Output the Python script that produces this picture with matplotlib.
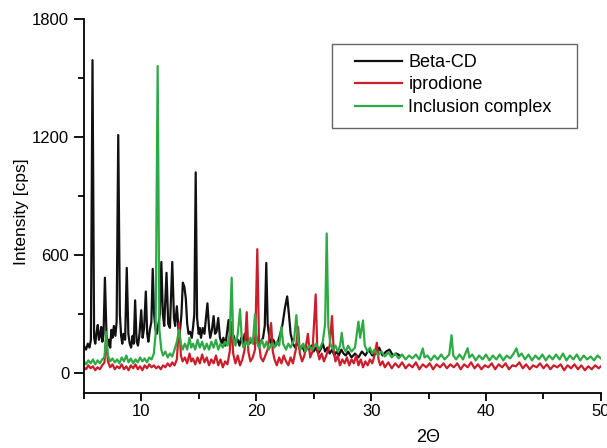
import matplotlib
matplotlib.use("Agg")
import matplotlib.pyplot as plt
from matplotlib.patches import Rectangle
from matplotlib.ticker import MultipleLocator

plt.rcParams['font.family'] = ['Liberation Sans', 'DejaVu Sans']

# 2-theta / intensity traces, read point by point
beta_x = [5.0, 5.2, 5.35, 5.5, 5.62, 5.76, 5.9, 6.0, 6.1, 6.22, 6.32, 6.42, 6.52, 6.62, 6.72, 6.84,
          6.98, 7.1, 7.2, 7.3, 7.4, 7.5, 7.62, 7.75, 7.86, 8.0, 8.14, 8.25, 8.35, 8.45, 8.6, 8.74,
          8.88, 9.0, 9.12, 9.25, 9.35, 9.47, 9.6, 9.72, 9.85, 10.0, 10.12, 10.25, 10.4, 10.52, 10.62,
          10.75, 10.88, 11.0, 11.12, 11.25, 11.35, 11.5, 11.62, 11.75, 11.88, 12.0, 12.2, 12.35,
          12.5, 12.7, 12.85, 12.95, 13.1, 13.25, 13.35, 13.5, 13.62, 13.75, 13.88, 14.0, 14.12,
          14.25, 14.4, 14.52, 14.62, 14.74, 14.86, 15.0, 15.1, 15.2, 15.35, 15.5, 15.62, 15.76,
          15.9, 16.0, 16.15, 16.3, 16.42, 16.55, 16.7, 16.85, 17.0, 17.15, 17.3, 17.45, 17.6,
          17.75, 17.9, 18.05, 18.2, 18.4, 18.55, 18.7, 18.85, 19.0, 19.2, 19.4, 19.6, 19.8, 20.0,
          20.2, 20.4, 20.6, 20.75, 20.88, 21.0, 21.15, 21.3, 21.5, 21.7, 21.9, 22.1, 22.3, 22.5,
          22.7, 22.85, 23.0, 23.2, 23.4, 23.6, 23.8, 24.0, 24.2, 24.4, 24.6, 24.8, 25.0, 25.2,
          25.4, 25.6, 25.8, 26.0, 26.2, 26.4, 26.6, 26.8, 27.0, 27.2, 27.4, 27.6, 27.8, 28.0,
          28.3, 28.6, 28.9, 29.2, 29.5, 29.8, 30.1, 30.4, 30.7, 31.0, 31.3, 31.6, 31.9, 32.2, 32.5]
beta_y = [140, 120, 150, 130, 170, 1590, 180, 150, 200, 245, 170, 190, 235, 160, 200, 485,
          190, 140, 170, 130, 220, 180, 240, 190, 260, 1210, 300, 190, 150, 200, 170, 535,
          200, 150, 130, 190, 150, 370, 160, 140, 200, 320, 180, 230, 415, 200, 160,
          220, 260, 530, 300, 220, 200, 250, 300, 565, 300, 240, 510, 250,
          230, 565, 280, 240, 340, 220, 200, 300, 460, 440, 380, 250, 200,
          210, 180, 240, 300, 1020, 280, 200, 230, 180, 230, 200, 270, 355,
          230, 180, 220, 290, 200, 210, 280, 180, 150, 180, 140, 200, 270,
          180, 160, 190, 150, 170, 140, 180, 150, 200, 160, 150, 170, 150, 190,
          140, 160, 180, 240, 560, 250, 180, 150, 170, 140, 160, 200, 250, 330,
          390, 300, 200, 150, 130, 160, 120, 140, 110, 130, 120, 140, 110, 130,
          100, 120, 150, 110, 130, 100, 120, 90, 110, 90, 120, 100, 90, 110,
          80, 100, 80, 110, 90, 120, 90, 100, 130, 90, 110, 120, 90, 100, 90]

ipro_x = [5.0, 5.2, 5.4, 5.6, 5.8, 6.0, 6.2, 6.4, 6.6, 6.8, 6.95, 7.1, 7.3, 7.5, 7.7, 7.9, 8.1,
          8.3, 8.5, 8.7, 8.9, 9.1, 9.3, 9.5, 9.7, 9.9, 10.1, 10.3, 10.5, 10.7, 10.9, 11.1, 11.3,
          11.5, 11.7, 11.9, 12.1, 12.3, 12.5, 12.7, 12.9, 13.1, 13.3, 13.45, 13.6, 13.8, 14.0,
          14.2, 14.35, 14.5, 14.7, 14.9, 15.1, 15.3, 15.5, 15.7, 15.9, 16.1, 16.3, 16.5, 16.7,
          16.9, 17.1, 17.3, 17.5, 17.7, 17.85, 18.0, 18.2, 18.4, 18.6, 18.8, 19.0, 19.18, 19.32,
          19.5, 19.7, 19.9, 20.1, 20.25, 20.4, 20.6, 20.8, 21.0, 21.3, 21.45, 21.6, 21.8, 22.0,
          22.2, 22.4, 22.6, 22.8, 23.0, 23.2, 23.45, 23.65, 23.8, 24.0, 24.2, 24.5, 24.7, 24.9,
          25.18, 25.32, 25.5, 25.7, 25.9, 26.1, 26.4, 26.6, 26.75, 26.9, 27.1, 27.3, 27.5, 27.7,
          27.9, 28.1, 28.3, 28.5, 28.7, 28.9, 29.1, 29.3, 29.5, 29.7, 29.9, 30.1, 30.3, 30.5,
          30.65, 30.8, 31.0, 31.2, 31.5, 31.8, 32.1, 32.4, 32.7, 33.0, 33.3, 33.6, 33.9, 34.2,
          34.5, 34.8, 35.1, 35.4, 35.7, 36.0, 36.3, 36.6, 36.9, 37.2, 37.5, 37.8, 38.1, 38.4,
          38.7, 39.0, 39.3, 39.6, 39.9, 40.2, 40.5, 40.8, 41.1, 41.4, 41.7, 42.0, 42.3, 42.6,
          42.9, 43.2, 43.5, 43.8, 44.1, 44.4, 44.7, 45.0, 45.3, 45.6, 45.9, 46.2, 46.5, 46.8,
          47.1, 47.4, 47.7, 48.0, 48.3, 48.6, 48.9, 49.2, 49.5, 49.8, 50.0]
ipro_y = [30, 20, 40, 25, 35, 15, 30, 20, 40, 55, 170, 60, 30, 45, 20, 35, 25,
          45, 20, 35, 15, 40, 25, 45, 20, 35, 15, 40, 25, 45, 30, 40, 25,
          35, 20, 40, 30, 50, 35, 55, 40, 70, 255, 90, 60, 80, 50,
          100, 60, 75, 45, 80, 50, 95, 55, 80, 40, 70, 50, 90, 40,
          70, 30, 60, 45, 110, 260, 100, 50, 90, 40, 70, 120, 310, 110,
          60, 80, 120, 630, 150, 80, 60, 90, 120, 255, 110, 70, 40, 80,
          50, 90, 60, 40, 80, 50, 120, 235, 100, 60, 90, 200, 80, 110,
          400, 120, 70, 100, 60, 90, 140, 290, 110, 60, 90, 40, 70, 50,
          80, 40, 70, 50, 90, 40, 70, 30, 60, 40, 70, 50, 90, 155,
          70, 40, 60, 30, 55, 25, 50, 30, 55, 25, 45, 30, 55, 20,
          45, 30, 50, 20, 45, 30, 50, 25, 45, 30, 50, 20, 45, 30,
          55, 25, 45, 20, 40, 30, 50, 20, 45, 30, 50, 20, 40, 35,
          55, 25, 45, 20, 40, 30, 50, 25, 45, 20, 40, 30, 45, 15,
          40, 25, 45, 20, 40, 15, 35, 20, 40, 25, 35]

incl_x = [5.0, 5.2, 5.4, 5.6, 5.8, 6.0, 6.2, 6.4, 6.6, 6.8, 6.95, 7.1, 7.3, 7.5, 7.7, 7.9, 8.1,
          8.3, 8.5, 8.7, 8.9, 9.1, 9.3, 9.5, 9.7, 9.9, 10.1, 10.3, 10.5, 10.7, 10.9, 11.1, 11.25,
          11.43, 11.58, 11.75, 11.9, 12.1, 12.3, 12.5, 12.7, 12.9, 13.1, 13.3, 13.45, 13.6, 13.8,
          14.0, 14.2, 14.35, 14.5, 14.7, 14.9, 15.1, 15.3, 15.5, 15.7, 15.9, 16.1, 16.3, 16.5,
          16.7, 16.9, 17.1, 17.3, 17.5, 17.7, 17.87, 18.0, 18.2, 18.4, 18.6, 18.75, 18.9, 19.1,
          19.3, 19.5, 19.7, 19.9, 20.05, 20.25, 20.5, 20.7, 20.9, 21.1, 21.35, 21.6, 21.8, 22.0,
          22.2, 22.35, 22.6, 22.8, 23.0, 23.3, 23.5, 23.65, 23.85, 24.1, 24.3, 24.6, 24.9, 25.2,
          25.5, 25.8, 26.0, 26.14, 26.28, 26.45, 26.7, 26.9, 27.1, 27.3, 27.45, 27.6, 27.8, 28.0,
          28.3, 28.6, 28.9, 29.05, 29.3, 29.45, 29.7, 29.9, 30.1, 30.3, 30.6, 30.9, 31.2, 31.5,
          31.8, 32.1, 32.4, 32.7, 33.0, 33.3, 33.6, 33.9, 34.2, 34.5, 34.65, 34.9, 35.2, 35.5,
          35.8, 36.1, 36.4, 36.8, 37.0, 37.15, 37.4, 37.7, 38.0, 38.4, 38.55, 38.8, 39.1, 39.4,
          39.7, 40.0, 40.3, 40.6, 40.9, 41.2, 41.5, 41.8, 42.1, 42.4, 42.65, 42.85, 43.1, 43.4,
          43.7, 44.0, 44.3, 44.6, 44.9, 45.2, 45.5, 45.8, 46.1, 46.4, 46.7, 47.0, 47.3, 47.6,
          47.9, 48.2, 48.5, 48.8, 49.1, 49.4, 49.7, 50.0]
incl_y = [60, 45, 65, 50, 70, 45, 65, 50, 70, 80, 210, 90, 60, 75, 55, 70, 50,
          80, 60, 90, 55, 75, 50, 70, 55, 80, 60, 75, 55, 80, 70, 100, 200,
          1560, 220, 120, 90, 110, 80, 100, 85, 120, 160, 220, 150, 120, 150,
          120, 180, 130, 150, 120, 170, 130, 160, 120, 150, 120, 160, 130, 170,
          120, 150, 130, 160, 140, 200, 485, 180, 140, 200, 325, 170, 130, 160,
          140, 180, 150, 300, 160, 130, 170, 130, 160, 120, 150, 130, 160, 140,
          235, 150, 120, 150, 130, 170, 295, 160, 120, 150, 110, 140, 120, 150,
          120, 160, 250, 710, 240, 150, 120, 140, 110, 140, 205, 130, 110, 140,
          110, 130, 262, 180, 268, 140, 110, 130, 100, 120, 90, 110, 85, 105,
          80, 100, 75, 95, 70, 90, 75, 95, 70, 126, 80, 90, 65, 90,
          70, 95, 70, 95, 193, 90, 70, 95, 70, 127, 80, 95, 65, 90,
          70, 95, 65, 90, 70, 95, 65, 90, 75, 100, 126, 85, 100, 70,
          95, 65, 90, 70, 95, 65, 90, 70, 95, 70, 100, 65, 90, 70,
          95, 65, 90, 70, 85, 65, 90, 75]

series = [
    (beta_x, beta_y, '#111111', 'Beta-CD'),
    (ipro_x, ipro_y, '#cc1e2a', 'iprodione'),
    (incl_x, incl_y, '#2eaa45', 'Inclusion complex'),
]

W, H = 607, 448
fig = plt.figure(figsize=(W / 100, H / 100), dpi=100)
ax = fig.add_axes([0.138, 0.123, 0.852, 0.835])

for xs, ys, col, name in series:
    ax.plot(xs, ys, color=col, lw=1.6, label=name)

ax.set_xlim(5, 50)
ax.set_ylim(-100, 1800)
ax.xaxis.set_minor_locator(MultipleLocator(5))
ax.yaxis.set_minor_locator(MultipleLocator(300))
ax.set_xticks([10, 20, 30, 40, 50])
ax.set_yticks([0, 600, 1200, 1800])

for side in ('top', 'right'):
    ax.spines[side].set_visible(False)
for side in ('left', 'bottom'):
    ax.spines[side].set_linewidth(1.3)

ax.tick_params(which='major', direction='out', length=7, width=1.3, labelsize=12)
ax.tick_params(axis='x', which='major', length=6, pad=2)
ax.tick_params(which='minor', direction='out', length=4, width=1.3)

ax.set_ylabel('Intensity [cps]', fontsize=12.5)
ax.yaxis.set_label_coords(-0.106, 0.484)
fig.text(0.705, 0.004, '2\u0398', fontsize=13, ha='center', va='bottom')

# legend box is wider than its content, so the frame is drawn separately
fig.patches.append(Rectangle((332 / W, 1 - 128 / H), 245 / W, 84 / H,
                             transform=fig.transFigure, fill=False,
                             edgecolor='#666666', lw=1.0, zorder=5))
ax.legend(loc='upper left', bbox_to_anchor=(355 / W, 1 - 54 / H),
          bbox_transform=fig.transFigure, fontsize=13, frameon=False,
          handlelength=2.6, borderpad=0.0, labelspacing=0.3, handletextpad=0.35,
          borderaxespad=0.0)

fig.savefig('out.png', dpi=100, facecolor='white')
